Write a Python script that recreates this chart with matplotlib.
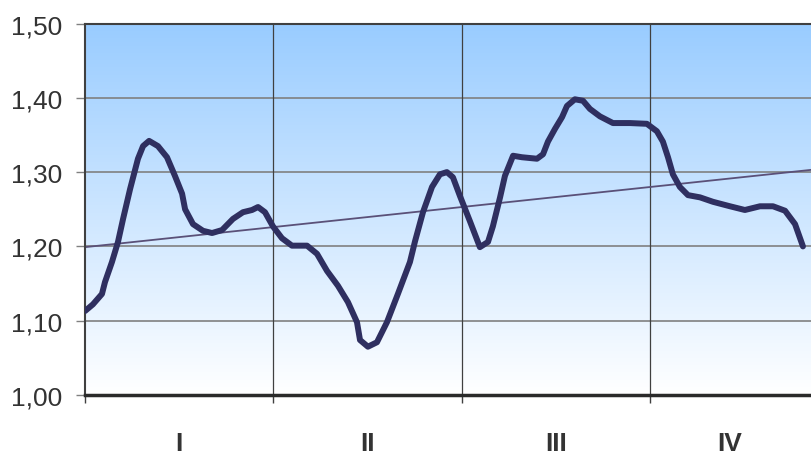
import numpy as np
import matplotlib.pyplot as plt
from matplotlib.ticker import FuncFormatter

# x in quarters (0 = start of Q1), values of the series
x_pos = [0.000, 0.042, 0.090, 0.106, 0.143, 0.175, 0.202, 0.239, 0.281, 0.308,
         0.340, 0.387, 0.435, 0.477, 0.515, 0.531, 0.573, 0.626, 0.674, 0.727,
         0.785, 0.838, 0.886, 0.918, 0.955, 0.997, 1.045, 1.098, 1.178, 1.231,
         1.284, 1.342, 1.395, 1.443, 1.459, 1.501, 1.549, 1.602, 1.660, 1.724,
         1.751, 1.793, 1.841, 1.883, 1.920, 1.952, 1.989, 2.042, 2.095, 2.138,
         2.164, 2.202, 2.228, 2.271, 2.318, 2.398, 2.430, 2.456, 2.493, 2.531,
         2.557, 2.599, 2.642, 2.679, 2.732, 2.801, 2.891, 2.981, 3.034, 3.066,
         3.093, 3.119, 3.156, 3.199, 3.263, 3.332, 3.422, 3.501, 3.581, 3.650,
         3.714, 3.767, 3.809]
values = [1.113, 1.122, 1.136, 1.152, 1.179, 1.206, 1.237, 1.277, 1.318, 1.335,
          1.342, 1.335, 1.320, 1.295, 1.271, 1.250, 1.230, 1.221, 1.218, 1.222,
          1.237, 1.246, 1.249, 1.253, 1.246, 1.227, 1.211, 1.201, 1.201, 1.190,
          1.167, 1.147, 1.125, 1.098, 1.074, 1.065, 1.071, 1.098, 1.136, 1.179,
          1.207, 1.246, 1.280, 1.297, 1.300, 1.293, 1.268, 1.234, 1.199, 1.206,
          1.227, 1.266, 1.295, 1.322, 1.320, 1.318, 1.324, 1.341, 1.358, 1.374,
          1.389, 1.398, 1.396, 1.385, 1.375, 1.366, 1.366, 1.365, 1.355, 1.341,
          1.320, 1.297, 1.280, 1.269, 1.266, 1.260, 1.254, 1.249, 1.254, 1.254,
          1.248, 1.230, 1.200]

# linear trend line (start value and slope per quarter)
trend_start = 1.199
trend_slope = 0.027

quarters = ['I', 'II', 'III', 'IV']
label_pos = [0.5, 1.5, 2.5, 3.42]
y_ticks = [1.00, 1.10, 1.20, 1.30, 1.40, 1.50]

x_max = 3.857

fig = plt.figure(figsize=(8.12, 4.52), dpi=100)
ax = fig.add_axes([85 / 812, 56 / 452, 727 / 812, 371.5 / 452])

# gradient background: light blue on top fading to white
grad = np.linspace(0, 1, 256).reshape(-1, 1)
top = np.array([153, 204, 255]) / 255
bottom = np.array([255, 255, 255]) / 255
img = bottom + (top - bottom) * grad
ax.imshow(img[:, None, :].repeat(2, axis=1), extent=[0, x_max, 1.0, 1.5],
          origin='lower', aspect='auto', zorder=0)

ax.set_xlim(0, x_max)
ax.set_ylim(1.0, 1.5)

for v in y_ticks[1:]:
    ax.axhline(v, color='#808080', lw=1.2, zorder=1)
for q in range(1, 4):
    ax.axvline(q, color='#404040', lw=0.9, zorder=1)

xs = np.array([0, x_max])
ax.plot(xs, trend_start + trend_slope * xs, color='#5a5078', lw=1.3, zorder=2)
ax.plot(x_pos, values, color='#2f2f60', lw=4.3, solid_joinstyle='round',
        solid_capstyle='round', zorder=3)

ax.set_yticks(y_ticks)
ax.yaxis.set_major_formatter(FuncFormatter(lambda v, p: f'{v:.2f}'.replace('.', ',')))
ax.set_xticks([0, 1, 2, 3])
ax.set_xticklabels([])
ax.set_xticks(label_pos, minor=True)
ax.set_xticklabels(quarters, minor=True, fontweight='bold')

ax.tick_params(axis='y', direction='out', length=6.5, width=1, color='#808080',
               pad=10, labelsize=19, labelcolor='#333333')
ax.tick_params(axis='x', which='major', direction='out', length=6, width=1,
               color='#404040')
ax.tick_params(axis='x', which='minor', length=0, pad=26, labelsize=19,
               labelcolor='#333333')
for lab in ax.get_yticklabels() + ax.get_xticklabels(minor=True):
    lab.set_family('Liberation Sans')

ax.spines['right'].set_visible(False)
ax.spines['top'].set_color('#404040')
ax.spines['top'].set_linewidth(1.5)
ax.spines['left'].set_color('#404040')
ax.spines['left'].set_linewidth(1.5)
ax.spines['bottom'].set_color('#2a2a2a')
ax.spines['bottom'].set_linewidth(2.5)

fig.savefig('out.png', dpi=100)
